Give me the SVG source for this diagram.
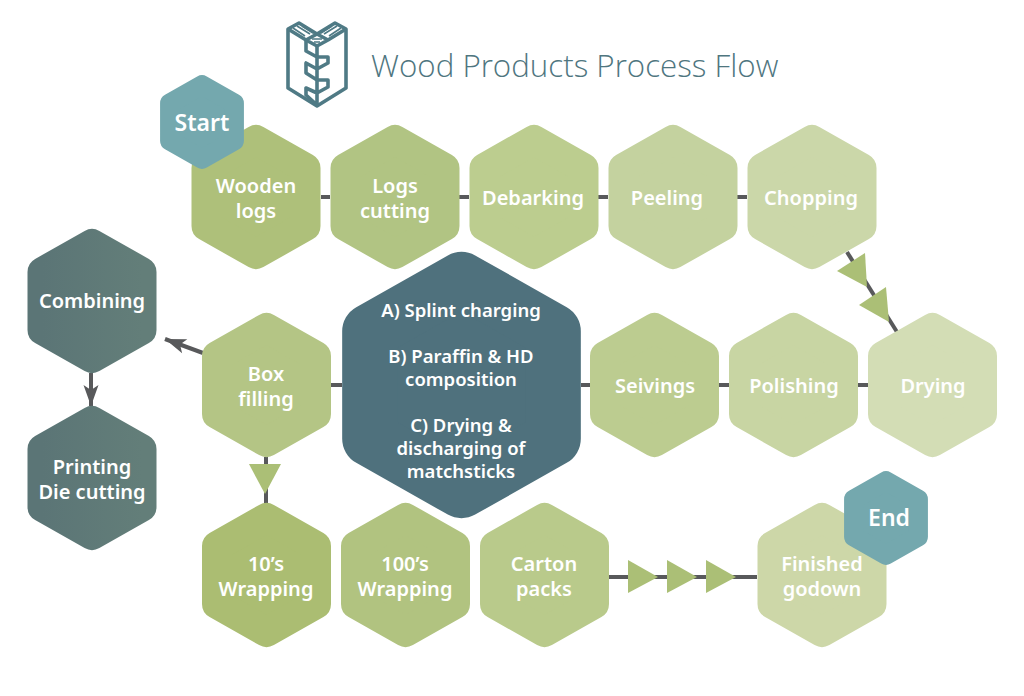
<svg xmlns="http://www.w3.org/2000/svg" width="1024" height="696" viewBox="0 0 1024 696">
<style>
text{font-family:"Noto Sans","Open Sans",sans-serif;text-anchor:middle}
.l{font-size:20px;font-weight:600;fill:#fff}
.b{font-size:23px}
.c{font-size:18.5px}
.t{font-family:"Open Sans","Noto Sans",sans-serif;font-size:31.3px;font-weight:300;fill:#4f767f;text-anchor:start}
.w{stroke:#58595b;stroke-width:4;fill:none}
.tri{fill:#abbf76}
.logo{fill:none;stroke:#4f7a85;stroke-width:3.6;stroke-linejoin:round}
.hatch{fill:none;stroke:#4f7a85;stroke-width:1.6}
.hx{stroke-width:30;stroke-linejoin:round}
</style>
<defs>
<polygon id="hex" class="hx" points="0,-57 49.5,-29 49.5,29 0,57 -49.5,29 -49.5,-29"/>
<linearGradient id="dk" x1="0" x2="1" y1="0" y2="0"><stop offset="0" stop-color="#5b7576"/><stop offset="1" stop-color="#637e79"/></linearGradient>
<marker id="arr" markerUnits="userSpaceOnUse" markerWidth="26" markerHeight="20" refX="23" refY="10" orient="auto"><path d="M23,10 L2,2.5 L7,10 L2,17.5 Z" fill="#58595b"/></marker>
</defs>
<g id="logo">
<path class="logo" d="M299,23 L288,29 V88 L317,106 L346,88 V29 L335,23 L317,34 Z"/>
<path class="logo" d="M288,29 L306,40 M346,29 L328,40 M306,40 L317,34 L328,40 L317,46 Z"/>
<path class="logo" d="M306,41 V51 L317,57 H328 V63 L317,69 L306,63 V73 L317,80 H328 V87 L317,93 L306,88 V95 L317,105 M317,46 V105"/>
<path class="hatch" d="M293,28 L305,36 M297,26 L310,34 M302,26 L313,33 M341,28 L329,36 M337,26 L324,34 M332,26 L321,33 M312,39 H322 M314,42 H320"/>
</g>
<text id="title" class="t" x="371" y="77">Wood Products Process Flow</text>
<g id="connectors">
<path class="w" d="M321,197 H330 M459,197 H469 M598,197 H608 M737,197 H747"/>
<path class="w" d="M847,252 L897,332"/>
<path class="w" d="M331,385 H342 M581,385 H590 M719,385 H729 M858,385 H868"/>
<path class="w" d="M266,457 V503"/>
<path class="w" d="M203,353 L165,339" marker-end="url(#arr)"/>
<path class="w" d="M91,373 V406" marker-end="url(#arr)"/>
<path class="w" d="M609,577 H757"/>
<polygon class="tri" points="865,253 837,271 867,287"/>
<polygon class="tri" points="886,287 859,305 889,322"/>
<polygon class="tri" points="249,464 281,464 265,494"/>
<polygon class="tri" points="628,560 658,577 628,593"/>
<polygon class="tri" points="667,560 697,577 667,593"/>
<polygon class="tri" points="706,560 736,577 706,593"/>
</g>
<g id="n-logs"><use href="#hex" x="256" y="197" fill="#aec07a" stroke="#aec07a"/><text class="l" x="256" y="193">Wooden</text><text class="l" x="256" y="218">logs</text></g>
<g id="n-cutting"><use href="#hex" x="395" y="197" fill="#b1c483" stroke="#b1c483"/><text class="l" x="395" y="193">Logs</text><text class="l" x="395" y="218">cutting</text></g>
<g id="n-debarking"><use href="#hex" x="534" y="197" fill="#bccd8f" stroke="#bccd8f"/><text class="l" x="533" y="205">Debarking</text></g>
<g id="n-peeling"><use href="#hex" x="673" y="197" fill="#c4d29f" stroke="#c4d29f"/><text class="l" x="667" y="205">Peeling</text></g>
<g id="n-chopping"><use href="#hex" x="812" y="197" fill="#cbd7a9" stroke="#cbd7a9"/><text class="l" x="811" y="205">Chopping</text></g>
<g id="n-start"><use href="#hex" transform="translate(202,122) scale(.65)" fill="#74a8ae" stroke="#74a8ae"/><text class="l b" x="202" y="131">Start</text></g>
<g id="n-combining"><use href="#hex" x="92" y="301" fill="url(#dk)" stroke="url(#dk)"/><text class="l" x="92" y="308">Combining</text></g>
<g id="n-printing"><use href="#hex" x="92" y="478" fill="url(#dk)" stroke="url(#dk)"/><text class="l" x="92" y="474">Printing</text><text class="l" x="92" y="499">Die cutting</text></g>
<g id="n-box"><use href="#hex" x="266.5" y="385" fill="#b4c585" stroke="#b4c585"/><text class="l" x="266" y="381">Box</text><text class="l" x="266" y="406">filling</text></g>
<g id="n-center"><use href="#hex" transform="translate(461.5,385) scale(1.85)" fill="#4f717d" stroke="#4f717d"/>
<text class="l c" x="461" y="317">A) Splint charging</text>
<text class="l c" x="461" y="363">B) Paraffin &amp; HD</text>
<text class="l c" x="461" y="386">composition</text>
<text class="l c" x="461" y="432">C) Drying &amp;</text>
<text class="l c" x="461" y="455">discharging of</text>
<text class="l c" x="461" y="478">matchsticks</text></g>
<g id="n-seivings"><use href="#hex" x="654.5" y="385" fill="#bccc90" stroke="#bccc90"/><text class="l" x="655" y="393">Seivings</text></g>
<g id="n-polishing"><use href="#hex" x="793.5" y="385" fill="#c8d5a3" stroke="#c8d5a3"/><text class="l" x="794" y="393">Polishing</text></g>
<g id="n-drying"><use href="#hex" x="932.5" y="385" fill="#d3ddb5" stroke="#d3ddb5"/><text class="l" x="933" y="393">Drying</text></g>
<g id="n-10"><use href="#hex" x="266.5" y="575" fill="#abbd72" stroke="#abbd72"/><text class="l" x="266" y="571">10’s</text><text class="l" x="266" y="596">Wrapping</text></g>
<g id="n-100"><use href="#hex" x="405.5" y="575" fill="#b1c380" stroke="#b1c380"/><text class="l" x="405" y="571">100’s</text><text class="l" x="405" y="596">Wrapping</text></g>
<g id="n-carton"><use href="#hex" x="544.5" y="575" fill="#b9ca8b" stroke="#b9ca8b"/><text class="l" x="544" y="571">Carton</text><text class="l" x="544" y="596">packs</text></g>
<g id="n-finished"><use href="#hex" x="822" y="575" fill="#cdd7a8" stroke="#cdd7a8"/><text class="l" x="822" y="571">Finished</text><text class="l" x="822" y="596">godown</text></g>
<g id="n-end"><use href="#hex" transform="translate(886,518) scale(.65)" fill="#74a8ae" stroke="#74a8ae"/><text class="l b" x="889" y="526">End</text></g>
</svg>
